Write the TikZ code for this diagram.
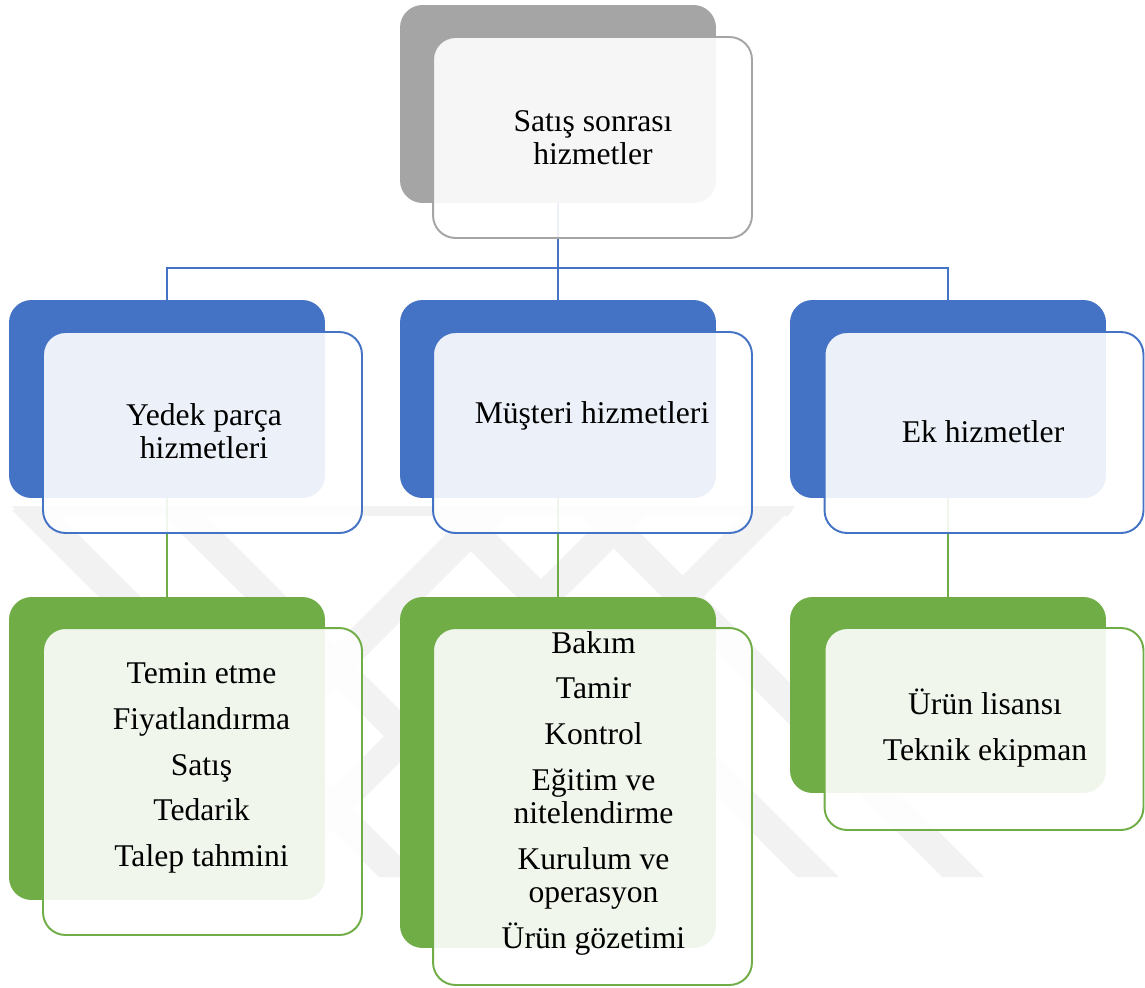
\documentclass[tikz,border=0pt]{standalone}
\usepackage{fontspec}
\setmainfont{Liberation Serif}
\definecolor{gri}{HTML}{A5A5A5}
\definecolor{mavi}{HTML}{4472C4}
\definecolor{yesil}{HTML}{70AD47}
\tikzset{
  arkakutu/.style={rectangle,rounded corners=0.45cm,minimum width=6.32cm,inner sep=0pt},
  onkutu/.style={rectangle,rounded corners=0.45cm,draw=#1,line width=1.1pt,
    fill=white,fill opacity=0.9,minimum width=6.38cm,inner sep=0pt},
  yazi/.style={align=center,font=\fontsize{18}{18.7}\selectfont,inner sep=0pt},
  baglanti/.style={draw=#1,line width=1.4pt},
  filigran/.style={fill=black!5}
}

\begin{document}
\begin{tikzpicture}[x=0.02cm,y=-0.02cm]
\useasboundingbox (0,0) rectangle (1145,987);
% filigran
\fill[filigran] (12,506) -- (795,506) -- (788,516) -- (19,516) -- cycle;
\foreach \a in {12,158,430,575}
  \fill[filigran] (\a,510) -- ++(42,0) -- ++(367,367) -- ++(-42,0) -- cycle;
\foreach \b in {470,610,748}
  \fill[filigran] (\b,510) -- ++(42,0) -- ++(-367,367) -- ++(-42,0) -- cycle;

% arka kutular
\node[arkakutu,fill=gri,minimum height=3.96cm] (satisA) at (558,104) {};
\node[arkakutu,fill=mavi,minimum height=3.96cm] (yedekA) at (167,399) {};
\node[arkakutu,fill=mavi,minimum height=3.96cm] (musteriA) at (558,399) {};
\node[arkakutu,fill=mavi,minimum height=3.96cm] (ekA) at (948,399) {};
\node[arkakutu,fill=yesil,minimum height=6.06cm] (parcaA) at (167,748.5) {};
\node[arkakutu,fill=yesil,minimum height=7.02cm] (bakimA) at (558,772.5) {};
\node[arkakutu,fill=yesil,minimum height=3.92cm] (lisansA) at (948,695) {};

% baglantilar
\coordinate (dal) at (558,268);
\draw[baglanti=mavi] (satisA.south) -- (dal) -| (yedekA.north);
\draw[baglanti=mavi] (dal) -| (ekA.north);
\draw[baglanti=mavi] (dal) -- (musteriA.north);
\draw[baglanti=yesil,line width=1.1pt] (yedekA.south) -- (parcaA.north);
\draw[baglanti=yesil,line width=1.1pt] (musteriA.south) -- (bakimA.north);
\draw[baglanti=yesil,line width=1.1pt] (ekA.south) -- (lisansA.north);

% on kutular
\node[onkutu=gri,minimum height=4.02cm] (satisO) at (592.5,137.5) {};
\node[onkutu=mavi,minimum height=4.02cm] (yedekO) at (202.5,432.5) {};
\node[onkutu=mavi,minimum height=4.02cm] (musteriO) at (592.5,432.5) {};
\node[onkutu=mavi,minimum height=4.02cm] (ekO) at (984,432.5) {};
\node[onkutu=yesil,minimum height=6.14cm] (parcaO) at (202.5,781.5) {};
\node[onkutu=yesil,minimum height=7.14cm] (bakimO) at (592.5,806.5) {};
\node[onkutu=yesil,minimum height=4.04cm] (lisansO) at (984,729) {};

% yazilar
\node[yazi] (satisY) at (593,138) {Satış sonrası\\hizmetler};
\node[yazi] (yedekY) at (204,431) {Yedek parça\\hizmetleri};
\node[yazi] (musteriY) at (592,416) {Müşteri hizmetleri};
\node[yazi] (ekY) at (983,432) {Ek hizmetler};
\node[yazi] (parcaY) at (201.5,768) {Temin etme\\[7.4pt]Fiyatlandırma\\[7.4pt]Satış\\[7.4pt]Tedarik\\[7.4pt]Talep tahmini};
\node[yazi] (bakimY) at (593.5,793) {Bakım\\[7.4pt]Tamir\\[7.4pt]Kontrol\\[7.4pt]Eğitim ve\\nitelendirme\\[7.4pt]Kurulum ve\\operasyon\\[7.4pt]Ürün gözetimi};
\node[yazi] (lisansY) at (985,728) {Ürün lisansı\\[7.4pt]Teknik ekipman};
\end{tikzpicture}
\end{document}
